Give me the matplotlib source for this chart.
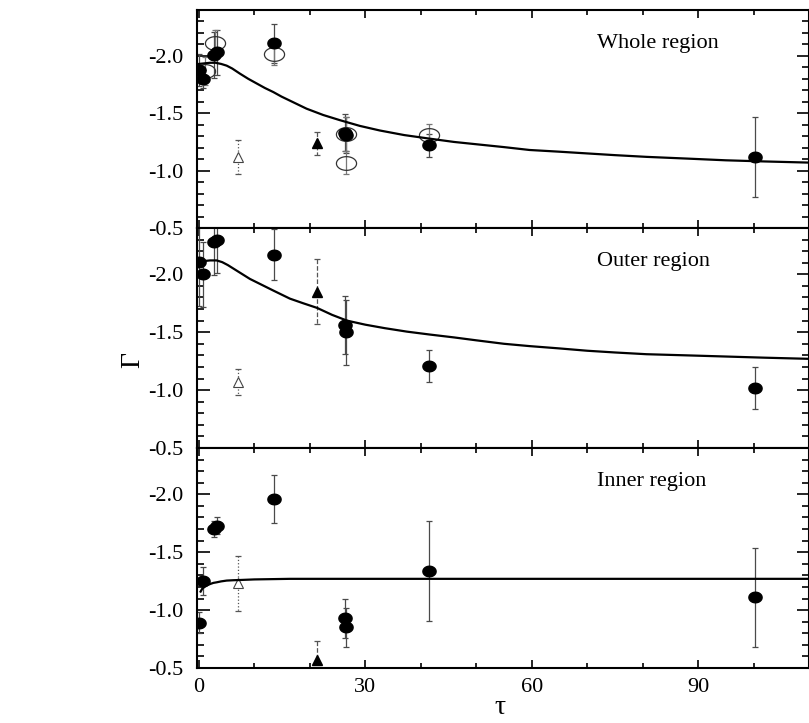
import numpy as np
import matplotlib
matplotlib.use('Agg')
import matplotlib.pyplot as plt
from matplotlib.ticker import MultipleLocator, FormatStrFormatter
from matplotlib.path import Path

plt.rcParams['font.family'] = ['Liberation Serif', 'DejaVu Serif']
plt.rcParams['axes.unicode_minus'] = False

region_names = ['Whole region', 'Outer region', 'Inner region']

# filled circles (same tau for every panel)
dot_x = [0.0, 0.7, 2.8, 3.3, 13.5, 26.4, 26.6, 41.4, 100.3]
whole_dot_y = [-1.88, -1.80, -2.01, -2.03, -2.11, -1.33, -1.31, -1.22, -1.12]
whole_dot_err = [0.14, 0.08, 0.20, 0.20, 0.17, 0.16, 0.16, 0.10, 0.35]
outer_dot_y = [-2.11, -2.00, -2.28, -2.30, -2.17, -1.56, -1.50, -1.21, -1.02]
outer_dot_err = [0.38, 0.28, 0.29, 0.29, 0.22, 0.25, 0.28, 0.14, 0.18]
inner_dot_y = [-0.89, -1.25, -1.70, -1.73, -1.96, -0.93, -0.85, -1.34, -1.11]
inner_dot_err = [0.09, 0.12, 0.07, 0.07, 0.21, 0.17, 0.17, 0.43, 0.43]

# open circles (whole region only)
ring_x = [1.1, 2.9, 13.5, 26.6, 26.6, 41.4]
ring_y = [-1.87, -2.11, -2.02, -1.32, -1.07, -1.31]
ring_err = [0.12, 0.12, 0.10, 0.15, 0.10, 0.10]

# open triangle (dotted bars) and filled triangle (dashed bars)
otri_x = 7.0
otri_y = [-1.12, -1.07, -1.23]
otri_err = [0.15, 0.11, 0.24]
ftri_x = 21.3
ftri_y = [-1.24, -1.85, -0.57]
ftri_err = [0.10, 0.28, 0.16]

# model curves
whole_curve_x = [0, 1, 2, 3, 4, 5, 6, 7.4, 8.9, 10.4, 11.9, 13.4, 14.9, 16.4, 17.9, 19.4,
                 22.4, 25.4, 29, 32.6, 37, 41.4, 46, 50, 55, 59.6, 65, 70, 75, 80.7, 88, 95, 102, 110]
whole_curve_y = [-1.93, -1.935, -1.94, -1.94, -1.93, -1.915, -1.89, -1.845, -1.80, -1.76, -1.72,
                 -1.685, -1.645, -1.61, -1.575, -1.54, -1.485, -1.44, -1.39, -1.35, -1.31, -1.28,
                 -1.25, -1.23, -1.205, -1.18, -1.165, -1.15, -1.135, -1.12, -1.105, -1.09, -1.08, -1.07]
outer_curve_x = [0, 1, 2, 3.2, 4.2, 5.2, 6.2, 7.7, 9.2, 11.3, 13.4, 14.9, 16.4, 18.8, 21.3,
                 24, 26.7, 30, 33.5, 37.5, 41.6, 46, 50, 55, 59.6, 65, 70, 75, 80.7, 88, 95, 102, 110]
outer_curve_y = [-2.11, -2.115, -2.12, -2.12, -2.105, -2.08, -2.05, -2.005, -1.96, -1.91, -1.86,
                 -1.825, -1.79, -1.75, -1.71, -1.65, -1.60, -1.565, -1.535, -1.505, -1.48, -1.455,
                 -1.43, -1.40, -1.38, -1.36, -1.34, -1.325, -1.31, -1.30, -1.29, -1.28, -1.27]
inner_curve_x = [0.3, 0.6, 1.0, 1.5, 2.0, 2.6, 3.2, 4.0, 5.0, 6.2, 7.4, 10, 16.4, 40, 110]
inner_curve_y = [-1.16, -1.185, -1.20, -1.215, -1.225, -1.235, -1.24, -1.248, -1.255, -1.258,
                 -1.26, -1.265, -1.27, -1.27, -1.27]

dot_y = [whole_dot_y, outer_dot_y, inner_dot_y]
dot_err = [whole_dot_err, outer_dot_err, inner_dot_err]
curve_x = [whole_curve_x, outer_curve_x, inner_curve_x]
curve_y = [whole_curve_y, outer_curve_y, inner_curve_y]


def ellipse(aspect):
  t = np.linspace(0, 2 * np.pi, 60)
  return Path(np.column_stack([np.cos(t), aspect * np.sin(t)]), closed=True)


dot_marker = ellipse(0.8)
ring_marker = ellipse(0.68)
bar_color = '#4a4a4a'

fig = plt.figure(figsize=(8.09, 7.23), dpi=100)
W, H = 809.0, 723.0
tops = [10, 228, 448]
bottoms = [228, 448, 668]

for i in range(3):
  ax = fig.add_axes([197 / W, 1 - bottoms[i] / H, 1 - 197 / W, (bottoms[i] - tops[i]) / H])

  ax.errorbar(dot_x, dot_y[i], yerr=dot_err[i], fmt='none', ecolor=bar_color,
              elinewidth=0.9, capsize=2.5, capthick=0.9, zorder=2)
  ax.plot(dot_x, dot_y[i], linestyle='none', marker=dot_marker, markersize=9.5,
          color='black', zorder=4)

  if i == 0:
    ax.errorbar(ring_x, ring_y, yerr=ring_err, fmt='none', ecolor='#777777',
                elinewidth=0.9, capsize=2.5, capthick=0.9, zorder=2)
    ax.plot(ring_x, ring_y, linestyle='none', marker=ring_marker, markersize=14.5,
            markerfacecolor='none', markeredgecolor='#333333', markeredgewidth=0.9, zorder=3)

  eb = ax.errorbar([otri_x], [otri_y[i]], yerr=[otri_err[i]], fmt='none', ecolor='#555555',
                   elinewidth=0.9, capsize=2.5, capthick=0.9, zorder=2)
  eb[-1][0].set_linestyle(':')
  ax.plot([otri_x], [otri_y[i]], linestyle='none', marker='^', markersize=7.5,
          markerfacecolor='white', markeredgecolor='#444444', markeredgewidth=0.8, zorder=3)

  eb = ax.errorbar([ftri_x], [ftri_y[i]], yerr=[ftri_err[i]], fmt='none', ecolor='#555555',
                   elinewidth=0.9, capsize=2.5, capthick=0.9, zorder=2)
  eb[-1][0].set_linestyle('--')
  ax.plot([ftri_x], [ftri_y[i]], linestyle='none', marker='^', markersize=7,
          color='black', zorder=3)

  ax.plot(curve_x[i], curve_y[i], color='black', linewidth=1.6, zorder=3)

  ax.set_xlim(-0.35, 110)
  ax.set_ylim(-0.5, -2.4)
  ax.xaxis.set_major_locator(MultipleLocator(30))
  ax.xaxis.set_minor_locator(MultipleLocator(10))
  ax.yaxis.set_major_locator(MultipleLocator(0.5))
  ax.yaxis.set_minor_locator(MultipleLocator(0.1))
  ax.yaxis.set_major_formatter(FormatStrFormatter('%.1f'))
  ax.tick_params(which='both', direction='in', top=True, right=True, width=1.2)
  ax.tick_params(axis='x', which='major', length=6)
  ax.tick_params(axis='x', which='minor', length=3.5)
  ax.tick_params(axis='y', which='major', length=9, pad=10)
  ax.tick_params(axis='y', which='minor', length=5)
  ax.tick_params(axis='both', which='major', labelsize=16)
  ax.tick_params(axis='x', which='major', pad=7)
  for s in ax.spines.values():
    s.set_linewidth(1.5)
  if i < 2:
    ax.tick_params(axis='x', labelbottom=False)
  ax.text(0.654, 0.848, region_names[i], transform=ax.transAxes, fontsize=16,
          ha='left', va='center')

fig.text(133 / W, 1 - 360 / H, 'Γ', rotation=90, fontsize=20, ha='center', va='center')
fig.text(500 / W, 1 - 708 / H, 'τ', fontsize=20, ha='center', va='center')

fig.savefig('out.png', dpi=100)
